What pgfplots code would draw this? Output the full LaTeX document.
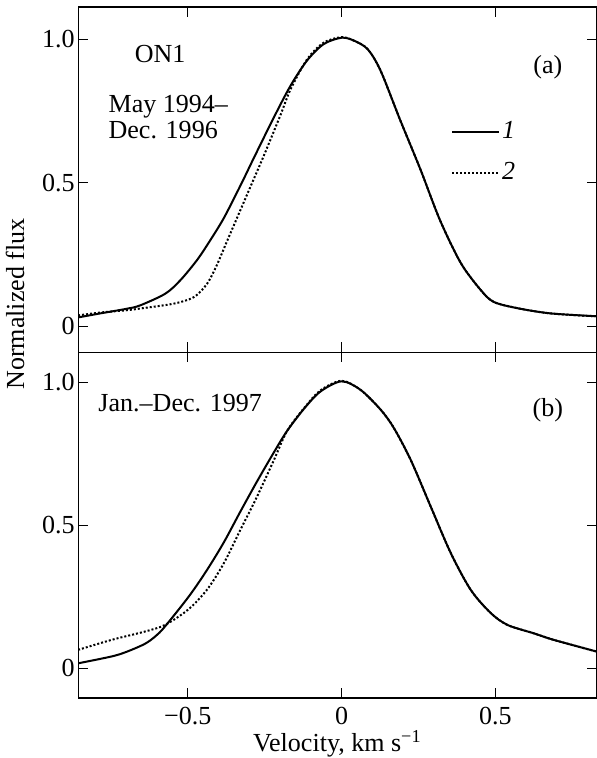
\documentclass[border=0pt]{standalone}
\usepackage{fontspec}
\setmainfont{Liberation Serif}
\usepackage{pgfplots}
\usepackage{pgfplotstable}
\pgfplotsset{compat=1.18}

% Panel (a): May 1994 -- Dec. 1996
\pgfplotstableread{
v f
-0.857 0.031
-0.785 0.045
-0.70 0.061
-0.655 0.073
-0.573 0.114
-0.524 0.161
-0.47 0.231
-0.427 0.300
-0.383 0.377
-0.329 0.490
-0.286 0.585
-0.22 0.728
-0.166 0.838
-0.112 0.926
-0.058 0.983
0.00 1.005
0.04 0.995
0.085 0.965
0.127 0.890
0.19 0.720
0.257 0.545
0.32 0.370
0.388 0.220
0.453 0.126
0.495 0.085
0.573 0.063
0.68 0.045
0.83 0.035
}\aone
\pgfplotstableread{
v f
-0.857 0.038
-0.785 0.048
-0.70 0.056
-0.655 0.062
-0.546 0.079
-0.48 0.102
-0.437 0.149
-0.405 0.215
-0.372 0.298
-0.329 0.405
-0.286 0.512
-0.253 0.594
-0.199 0.735
-0.166 0.825
-0.112 0.930
-0.058 0.988
0.00 1.007
0.04 0.995
0.085 0.965
0.127 0.890
0.19 0.720
0.257 0.545
0.32 0.370
0.388 0.220
0.453 0.126
0.495 0.085
0.573 0.063
0.68 0.045
0.83 0.035
}\atwo
% Panel (b): Jan. -- Dec. 1997
\pgfplotstableread{
v f
-0.857 0.017
-0.748 0.041
-0.70 0.057
-0.64 0.085
-0.605 0.112
-0.575 0.145
-0.496 0.252
-0.438 0.343
-0.383 0.440
-0.329 0.548
-0.275 0.653
-0.22 0.755
-0.177 0.830
-0.12 0.910
-0.068 0.968
0.00 1.003
0.062 0.973
0.127 0.904
0.17 0.840
0.225 0.728
0.29 0.565
0.355 0.403
0.42 0.274
0.485 0.193
0.54 0.151
0.625 0.122
0.69 0.099
0.83 0.058
}\bone
\pgfplotstableread{
v f
-0.857 0.064
-0.748 0.099
-0.64 0.128
-0.575 0.151
-0.50 0.204
-0.438 0.274
-0.383 0.367
-0.329 0.484
-0.275 0.600
-0.22 0.728
-0.177 0.830
-0.12 0.912
-0.068 0.972
0.00 1.005
0.062 0.973
0.127 0.904
0.17 0.840
0.225 0.728
0.29 0.565
0.355 0.403
0.42 0.274
0.485 0.193
0.54 0.151
0.625 0.122
0.69 0.099
0.83 0.058
}\btwo

\pgfplotsset{
  panel/.style={
    scale only axis, width=259pt, height=172.5pt,
    xmin=-0.857, xmax=0.83,
    xtick={-0.5,0,0.5}, ytick={0,0.5,1},
    yticklabels={0,0.5,1.0},
    major tick length=5pt,
    tick align=inside,
    axis line style={line width=0.6pt},
    every tick/.style={black, line width=0.6pt},
    yticklabel style={inner sep=1.5pt},
    xticklabel style={inner sep=4.5pt},
    clip=true,
  },
  prof/.style={black, line width=1pt, smooth, no marks},
  prof dot/.style={black, line width=1pt, densely dotted, smooth, no marks},
}

\begin{document}
\fontsize{13}{13}\selectfont%
\begin{tikzpicture}
\begin{axis}[panel, at={(0,172.5pt)}, anchor=south west,
    ymin=-0.091, ymax=1.112,
    xticklabels={},
    legend style={at={(axis cs:0.355,0.606)}, anchor=west, draw=none, fill=none,
      inner sep=0pt, row sep=8pt, nodes={inner sep=1pt, font=\itshape}},
    legend image code/.code={\draw[#1] (0pt,0pt) -- (23.5pt,0pt);},
    legend cell align=left]
  \addplot[prof] table[x=v, y=f] {\aone};
  \addlegendentry{1}
  \addplot[prof dot] table[x=v, y=f] {\atwo};
  \addlegendentry{2}
  \node at (axis cs:-0.59,0.948) {ON1};
  \node[anchor=west, align=left, inner sep=0pt] at (axis cs:-0.759,0.73) {May 1994--\\Dec. 1996};
  \node at (axis cs:0.671,0.903) {(a)};
\end{axis}
\begin{axis}[panel, at={(0,0)}, anchor=south west,
    ymin=-0.104, ymax=1.104,
    xticklabels={−0.5,0,0.5},
    xlabel={Velocity, km s\textsuperscript{−1}},
    xlabel style={inner sep=0pt, yshift=2pt}]
  \addplot[prof] table[x=v, y=f] {\bone};
  \addplot[prof dot] table[x=v, y=f] {\btwo};
  \node[anchor=west, inner sep=0pt] at (axis cs:-0.792,0.928) {Jan.--Dec. 1997};
  \node at (axis cs:0.671,0.903) {(b)};
\end{axis}
\node[rotate=90] at (-31.5pt,196.75pt) {Normalized flux};
\pgfresetboundingbox
\useasboundingbox (-39pt,-30pt) rectangle (259pt,348.5pt);
\end{tikzpicture}
\end{document}
